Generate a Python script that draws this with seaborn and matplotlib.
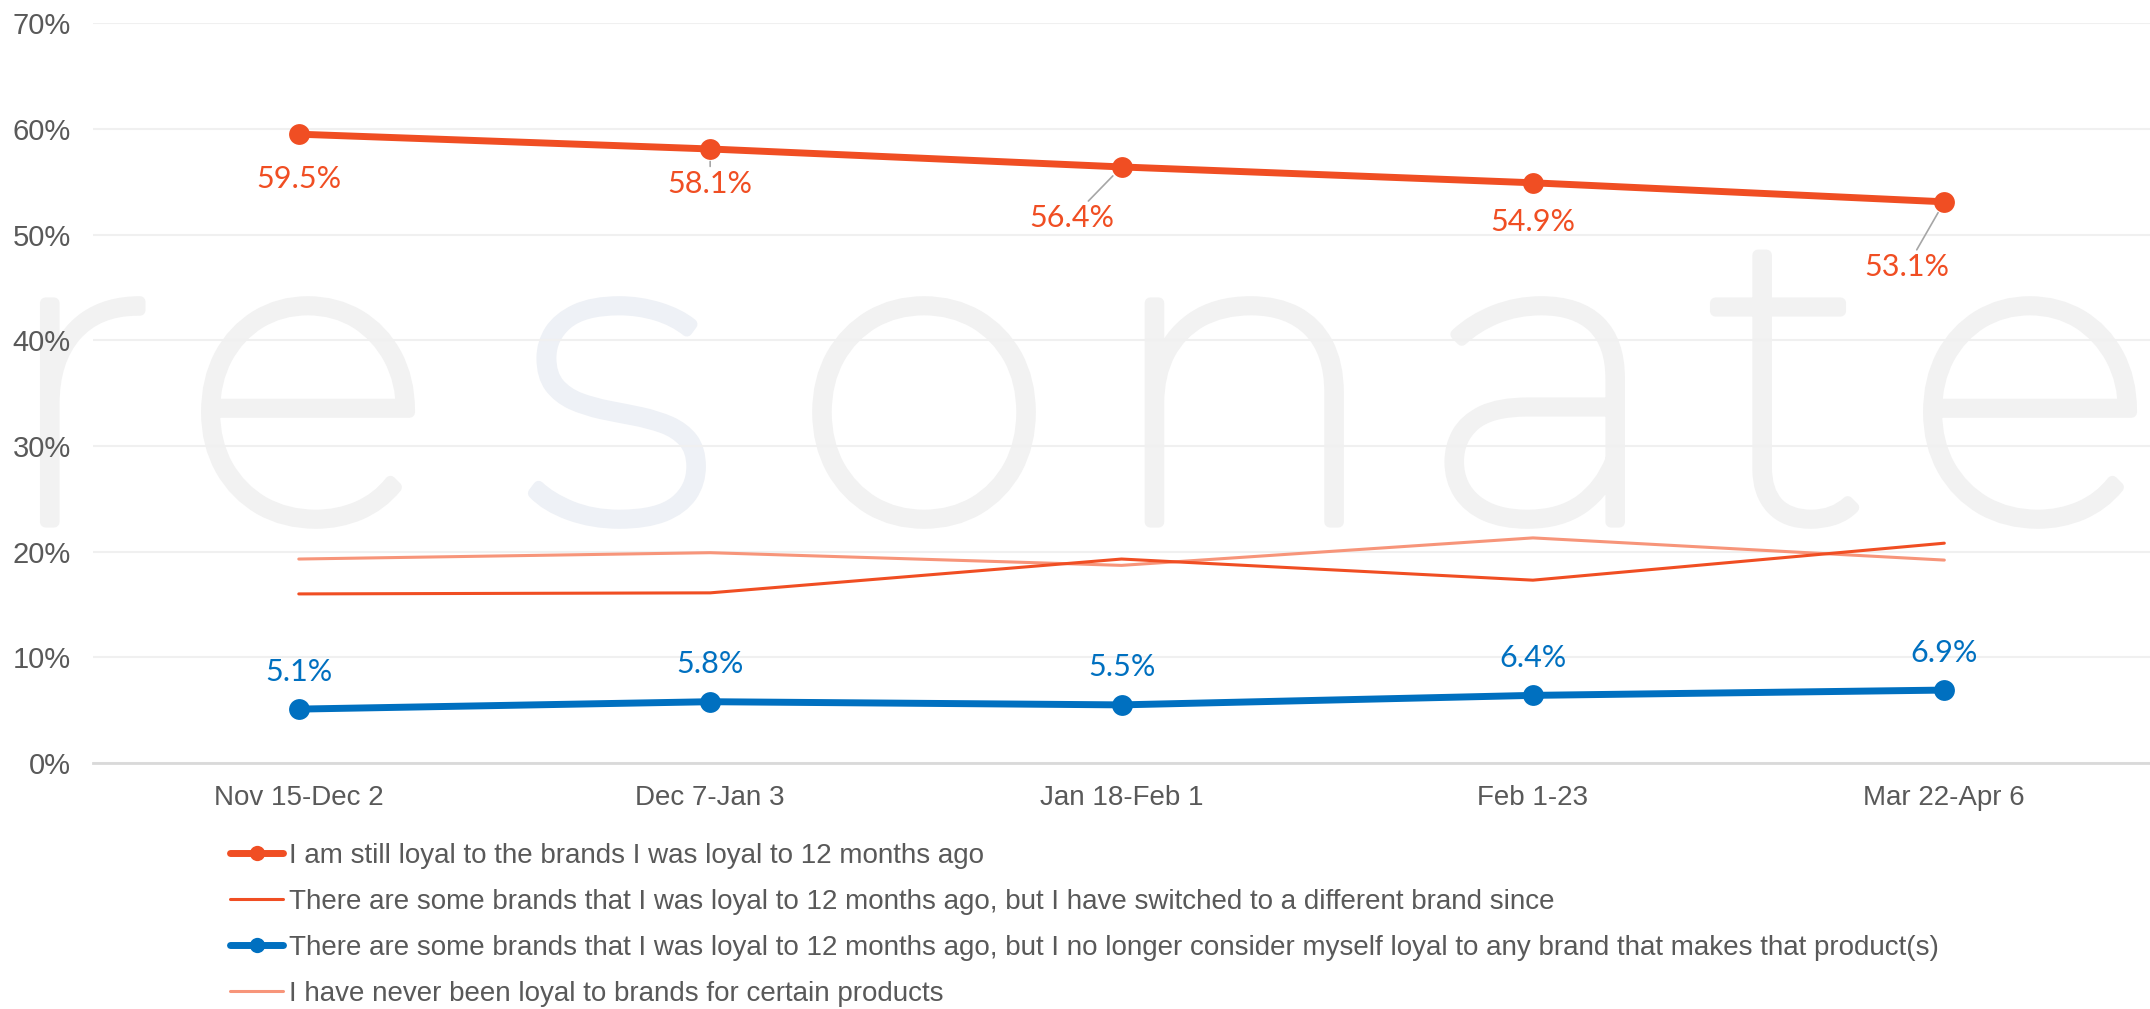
import matplotlib
matplotlib.use("Agg")
import matplotlib.pyplot as plt
import matplotlib.patheffects as pe
import seaborn as sns
import pandas as pd
from matplotlib.lines import Line2D

periods = ["Nov 15-Dec 2", "Dec 7-Jan 3", "Jan 18-Feb 1", "Feb 1-23", "Mar 22-Apr 6"]
still_loyal = [59.5, 58.1, 56.4, 54.9, 53.1]
switched = [16.0, 16.1, 19.3, 17.3, 20.8]
no_longer_loyal = [5.1, 5.8, 5.5, 6.4, 6.9]
never_loyal = [19.3, 19.9, 18.7, 21.3, 19.2]

names = [
    "I am still loyal to the brands I was loyal to 12 months ago",
    "There are some brands that I was loyal to 12 months ago, but I have switched to a different brand since",
    "There are some brands that I was loyal to 12 months ago, but I no longer consider myself loyal to any brand that makes that product(s)",
    "I have never been loyal to brands for certain products",
]

ORANGE = "#F04E23"
BLUE = "#0070C0"
SALMON = "#F7957A"
GREY = "#595959"

sns.set_style("white")
plt.rcParams["font.family"] = ["Liberation Sans", "DejaVu Sans"]

fig = plt.figure(figsize=(21.5, 10.09), dpi=100)
ax = fig.add_axes([0.0433, 0.2438, 0.9567, 0.7332])
ax.set_zorder(2)
ax.patch.set_alpha(0)

# watermark, letter by letter (behind the axes)
wm_letters = list("resonate")
wm_x = [78, 308, 618, 924, 1243, 1544, 1788, 2030]
for ch, x in zip(wm_letters, wm_x):
    col = "#eef1f6" if ch == "s" else "#f2f2f2"
    fig.text(x / 2150, 1 - 522 / 1009, ch, ha="center", va="baseline", fontsize=305,
             color=col, family=["Montserrat", "Lato", "DejaVu Sans"], fontweight=300,
             zorder=-1, path_effects=[pe.withStroke(linewidth=8, foreground=col)])

df = pd.DataFrame({"period": periods * 4,
                   "value": still_loyal + switched + no_longer_loyal + never_loyal,
                   "series": [n for n in names for _ in periods]})

styles = {
    names[0]: dict(color=ORANGE, linewidth=5, marker="o", markersize=15),
    names[1]: dict(color=ORANGE, linewidth=2.2, marker=None, markersize=0),
    names[2]: dict(color=BLUE, linewidth=5, marker="o", markersize=15),
    names[3]: dict(color=SALMON, linewidth=2.2, marker=None, markersize=0),
}
order = [names[3], names[1], names[2], names[0]]
for n in order:
    st = styles[n]
    sub = df[df["series"] == n]
    sns.lineplot(data=sub, x="period", y="value", ax=ax, color=st["color"],
                 linewidth=st["linewidth"], marker=st["marker"], markersize=st["markersize"],
                 markeredgewidth=0, sort=False, legend=False)

ax.set_xlim(-0.5, 4.5)
ax.set_ylim(0, 70)
ax.set_yticks(range(0, 71, 10))
ax.set_yticklabels([f"{v}%" for v in range(0, 71, 10)])
ax.grid(axis="y", color="#f0f0f0", linewidth=1.5)
ax.set_axisbelow(True)
for s in ["top", "right", "left"]:
    ax.spines[s].set_visible(False)
ax.spines["bottom"].set_color("#d9d9d9")
ax.spines["bottom"].set_linewidth(2)
ax.tick_params(axis="y", length=0, labelsize=21, labelcolor=GREY, pad=16)
ax.tick_params(axis="x", length=0, labelsize=20, labelcolor=GREY, pad=16)
ax.set_xlabel("")
ax.set_ylabel("")

# data labels: orange below the points, blue above
lab_font = ["Lato", "Liberation Sans"]
orange_off = [(0, -32), (0, -25), (-36, -37), (0, -28), (-27, -47)]
leader = [False, True, True, False, True]
for i, (v, off) in enumerate(zip(still_loyal, orange_off)):
    ax.annotate(f"{v}%", xy=(i, v), xytext=off, textcoords="offset points",
                ha="center", va="center", fontsize=22, color=ORANGE, family=lab_font,
                arrowprops=dict(arrowstyle="-", color="#a6a6a6", lw=1.2,
                                shrinkA=0, shrinkB=9) if leader[i] else None)
for i, v in enumerate(no_longer_loyal):
    ax.annotate(f"{v}%", xy=(i, v), xytext=(0, 27), textcoords="offset points",
                ha="center", va="center", fontsize=22, color=BLUE, family=lab_font)

handles = [
    Line2D([], [], color=ORANGE, lw=5, marker="o", markersize=11, markeredgewidth=0),
    Line2D([], [], color=ORANGE, lw=2.2),
    Line2D([], [], color=BLUE, lw=5, marker="o", markersize=11, markeredgewidth=0),
    Line2D([], [], color=SALMON, lw=2.2),
]
fig.legend(handles, names, loc="upper left", bbox_to_anchor=(0.102, 0.176),
           frameon=False, fontsize=20, labelcolor=GREY, handlelength=1.9,
           handletextpad=0.2, labelspacing=0.72, borderaxespad=0)

fig.savefig("out.png", dpi=100)
